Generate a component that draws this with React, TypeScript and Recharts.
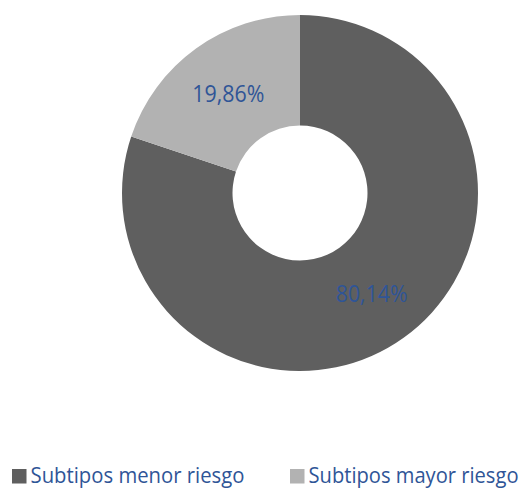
import React from "react";
import { Cell, Legend, Pie, PieChart } from "recharts";

const categories = ["Subtipos menor riesgo", "Subtipos mayor riesgo"];
const values = [80.14, 19.86];
const colors = ["#5f5f5f", "#b2b2b2"];
const legendWidths = [214, 210];

const TEXT = "#2f5597";
const FONT = "'Open Sans', 'DejaVu Sans', sans-serif";
const RADIAN = Math.PI / 180;

const data = categories.map((name, i) => ({ name, value: values[i] }));

const fmt = (v: number) => `${v.toFixed(2).replace(".", ",")}%`;

function SliceLabel(props: any) {
  const { cx, cy, midAngle, innerRadius, outerRadius, value } = props;
  const r = (innerRadius + outerRadius) / 2;
  const x = cx + r * Math.cos(-midAngle * RADIAN);
  const y = cy + r * Math.sin(-midAngle * RADIAN);
  return (
    <text
      x={x}
      y={y + 9}
      fill={TEXT}
      textAnchor="middle"
      fontFamily={FONT}
      fontSize={24}
      textLength={72}
      lengthAdjust="spacingAndGlyphs"
    >
      {fmt(value)}
    </text>
  );
}

// legend drawn as svg so the text widths can be pinned
function LegendBox() {
  const xs = [12, 290];
  return (
    <svg width={528} height={43}>
      {categories.map((c, i) => (
        <g key={c}>
          <rect x={xs[i]} y={19} width={14.5} height={14.5} fill={colors[i]} />
          <text
            x={xs[i] + 18.5}
            y={33}
            fill={TEXT}
            fontFamily={FONT}
            fontSize={21}
            textLength={legendWidths[i]}
            lengthAdjust="spacingAndGlyphs"
          >
            {c}
          </text>
        </g>
      ))}
    </svg>
  );
}

export default function App() {
  return (
    <div style={{ position: "absolute", left: 0, top: 0, width: 528, height: 493, background: "#fff" }}>
      <PieChart width={528} height={493} margin={{ top: 0, right: 0, bottom: 0, left: 0 }}>
        <Pie
          data={data}
          dataKey="value"
          nameKey="name"
          cx={300}
          cy={193}
          innerRadius={67.5}
          outerRadius={178}
          startAngle={90}
          endAngle={-270}
          stroke="none"
          label={SliceLabel}
          labelLine={false}
          isAnimationActive={false}
        >
          {data.map((d, i) => (
            <Cell key={d.name} fill={colors[i]} />
          ))}
        </Pie>
        <Legend
          content={() => <LegendBox />}
          wrapperStyle={{ position: "absolute", left: 0, top: 450, width: 528, height: 43 }}
        />
      </PieChart>
    </div>
  );
}
